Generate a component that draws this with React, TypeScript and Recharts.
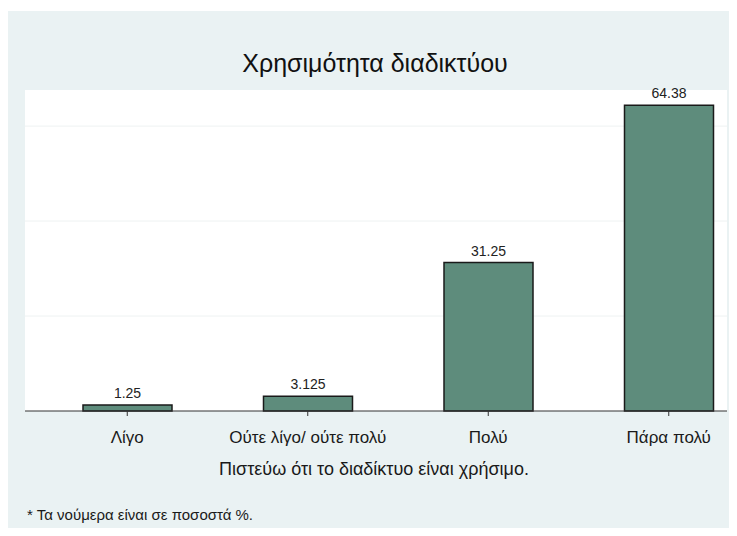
import React from "react";
import { BarChart, Bar, XAxis, YAxis, CartesianGrid, LabelList } from "recharts";

const categories = ["Λίγο", "Ούτε λίγο/ ούτε πολύ", "Πολύ", "Πάρα πολύ"];
const values = [1.25, 3.125, 31.25, 64.38];
const valueLabels = ["1.25", "3.125", "31.25", "64.38"];
const gridTicks = [0, 20, 40, 60];

const title = "Χρησιμότητα διαδικτύου";
const xTitle = "Πιστεύω ότι το διαδίκτυο είναι χρήσιμο.";
const note = "* Τα νούμερα είναι σε ποσοστά %.";

const data = categories.map((c, i) => ({ name: c, value: values[i], label: valueLabels[i] }));

const FONT = "'Liberation Sans', Arial, Helvetica, sans-serif";

export default function App() {
  return (
    <div style={{ position: "relative", width: 737, height: 536, margin: -8, background: "#ffffff", fontFamily: FONT, overflow: "hidden" }}>
      <div style={{ position: "absolute", left: 7, top: 11, width: 730, height: 525, background: "#EAF2F3" }} />
      <div style={{ position: "absolute", left: 0, top: 0 }}>
        <BarChart width={737} height={536} data={data} margin={{ top: 90, right: 10, bottom: 0, left: 25 }}>
          <CartesianGrid vertical={false} stroke="#EEF2F2" fill="#ffffff" horizontalValues={[20, 40, 60]} />
          <YAxis hide domain={[0, 67.6]} ticks={gridTicks} type="number" />
          <XAxis
            dataKey="name"
            height={125}
            padding={{ left: 12, right: -32 }}
            axisLine={{ stroke: "#333333" }}
            tickLine={{ stroke: "#333333" }}
            tickSize={5}
            tickMargin={15}
            tick={{ fontSize: 17, fill: "#1a1a1a", fontFamily: FONT }}
            interval={0}
          />
          <Bar dataKey="value" fill="#5E8C7C" stroke="#1a1a1a" strokeWidth={1.5} barSize={89} isAnimationActive={false}>
            <LabelList dataKey="label" position="top" offset={7} style={{ fontSize: 14, fill: "#222222", fontFamily: FONT }} />
          </Bar>
        </BarChart>
      </div>
      <div style={{ position: "absolute", left: 0, width: 750, top: 49, textAlign: "center", fontSize: 25, color: "#111", whiteSpace: "nowrap" }}>{title}</div>
      <div style={{ position: "absolute", left: 0, width: 748, top: 459, textAlign: "center", fontSize: 18, color: "#1a1a1a", whiteSpace: "nowrap" }}>{xTitle}</div>
      <div style={{ position: "absolute", left: 27, top: 506, fontSize: 15, color: "#1a1a1a", whiteSpace: "nowrap" }}>{note}</div>
    </div>
  );
}
